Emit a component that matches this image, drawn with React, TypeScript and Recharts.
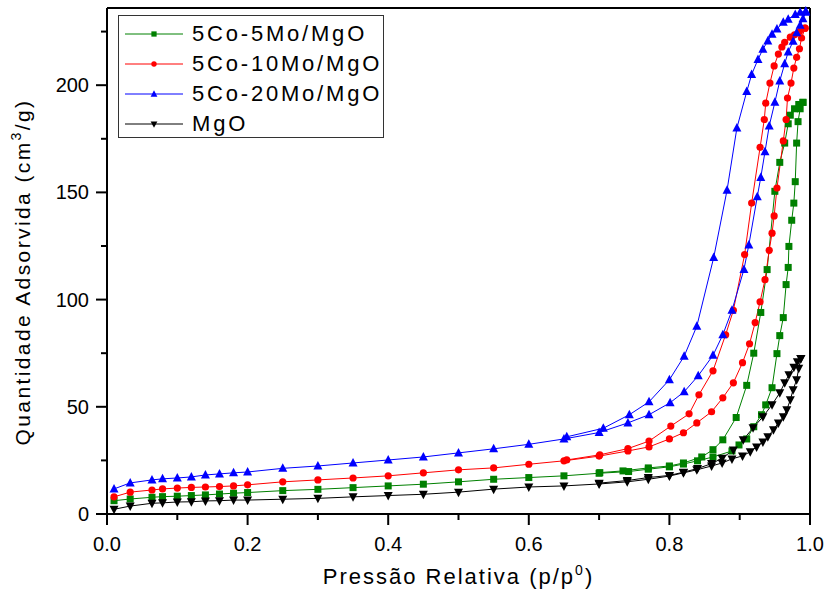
import { LineChart, Line, XAxis, YAxis, ReferenceLine, Label } from 'recharts'

const FONT = '"Liberation Sans", Arial, sans-serif'
const Y_MAX = 236
const X_TICKS = [0, 0.1, 0.2, 0.3, 0.4, 0.5, 0.6, 0.7, 0.8, 0.9, 1.0]
const Y_TICKS = [0, 25, 50, 75, 100, 125, 150, 175, 200, 225]

// [p/p0, quantity] pairs, adsorption then desorption
const CO5_ADS = [
  [0.01, 6.2], [0.033, 7], [0.064, 7.8], [0.079, 8.1], [0.1, 8.3], [0.12, 8.6], [0.14, 8.9], [0.16, 9.3],
  [0.18, 9.7], [0.2, 10], [0.25, 10.9], [0.3, 11.5], [0.35, 12.3], [0.4, 13.1], [0.45, 13.9], [0.5, 15],
  [0.55, 16.2], [0.6, 17], [0.65, 17.8], [0.7, 19], [0.742, 19.8], [0.77, 20.9], [0.8, 22], [0.82, 23.3],
  [0.84, 24.8], [0.862, 26.6], [0.889, 29.4], [0.899, 32.2], [0.91, 35], [0.92, 40.7], [0.931, 46.3],
  [0.937, 50.9], [0.946, 58.9], [0.953, 74.8], [0.957, 83.2], [0.962, 91.6], [0.966, 107], [0.969, 115],
  [0.97, 124.8], [0.974, 137], [0.977, 145], [0.979, 155], [0.981, 173], [0.983, 183], [0.986, 189], [0.99, 192],
]
const CO5_DES = [
  [0.99, 192], [0.984, 191], [0.978, 189], [0.972, 186], [0.969, 182], [0.964, 173], [0.957, 164], [0.95, 150.5],
  [0.939, 114], [0.93, 94], [0.92, 75], [0.91, 60], [0.895, 45], [0.876, 34.6], [0.862, 30], [0.846, 26.6],
  [0.82, 23.8], [0.8, 22.4], [0.77, 21.5], [0.734, 20.1], [0.701, 19.3],
]
const CO10_ADS = [
  [0.01, 8], [0.033, 10.2], [0.064, 11.2], [0.079, 11.7], [0.1, 12.1], [0.12, 12.4], [0.14, 12.6], [0.16, 12.8],
  [0.18, 13.1], [0.2, 13.6], [0.25, 15], [0.3, 15.9], [0.35, 16.8], [0.4, 17.8], [0.45, 19.2], [0.5, 20.6],
  [0.55, 21.5], [0.6, 23.2], [0.65, 24.8], [0.7, 27], [0.741, 29.4], [0.771, 31.3], [0.8, 35], [0.82, 37.9],
  [0.839, 42.5], [0.86, 47.7], [0.876, 54.2], [0.891, 61.2], [0.904, 70.6], [0.914, 79.4], [0.922, 89.3],
  [0.929, 99], [0.936, 109.3], [0.942, 123], [0.946, 131], [0.949, 139], [0.953, 152], [0.962, 174],
  [0.966, 184], [0.968, 194], [0.973, 201], [0.977, 208], [0.981, 213], [0.985, 217], [0.988, 222], [0.993, 226.6],
]
const CO10_DES = [
  [0.993, 226.6], [0.985, 225], [0.978, 223.5], [0.972, 222.4], [0.964, 220], [0.96, 217.8], [0.955, 214.5],
  [0.949, 209], [0.943, 201], [0.937, 191.6], [0.935, 184], [0.929, 171], [0.917, 145], [0.907, 121],
  [0.891, 95], [0.88, 83.6], [0.862, 66.8], [0.842, 55.6], [0.828, 46.7], [0.802, 41], [0.771, 34],
  [0.741, 30.5], [0.701, 27.6], [0.654, 25.2],
]
const CO20_ADS = [
  [0.01, 11.7], [0.033, 14.5], [0.064, 15.9], [0.079, 16.4], [0.1, 16.8], [0.12, 17.3], [0.14, 18.2], [0.16, 18.7],
  [0.18, 19.2], [0.2, 19.6], [0.25, 21.3], [0.3, 22.4], [0.35, 23.8], [0.4, 25.2], [0.45, 26.6], [0.5, 28.5],
  [0.55, 30.4], [0.6, 32.5], [0.65, 35], [0.7, 38], [0.741, 42.5], [0.771, 46.3], [0.801, 51.9], [0.821, 57],
  [0.841, 64.5], [0.862, 74], [0.876, 83.6], [0.889, 95], [0.906, 114], [0.913, 125.5], [0.925, 148],
  [0.93, 157], [0.936, 169], [0.942, 181], [0.95, 192], [0.957, 202], [0.964, 210], [0.969, 215.5],
  [0.976, 220.5], [0.981, 224.5], [0.986, 228], [0.99, 231], [0.994, 234],
]
const CO20_DES = [
  [0.994, 234.6], [0.986, 234], [0.979, 233], [0.969, 230.8], [0.962, 229.4], [0.953, 226.2], [0.946, 223.8],
  [0.94, 220.6], [0.933, 216.8], [0.926, 212], [0.917, 205], [0.91, 197], [0.896, 180], [0.882, 151],
  [0.863, 119.6], [0.839, 87.6], [0.821, 73.6], [0.8, 62.6], [0.771, 52.3], [0.743, 46.3], [0.706, 40], [0.654, 36],
]
const MGO_ADS = [
  [0.01, 2.2], [0.033, 3.7], [0.064, 5], [0.079, 5.2], [0.1, 5.6], [0.12, 5.7], [0.14, 6.1], [0.16, 6.2],
  [0.18, 6.5], [0.2, 6.5], [0.25, 6.9], [0.3, 7.3], [0.35, 8], [0.4, 8.6], [0.45, 9.2], [0.5, 10.2],
  [0.55, 11.6], [0.6, 12.6], [0.65, 13.1], [0.7, 14], [0.74, 15], [0.77, 16.2], [0.8, 17.7], [0.82, 19.2],
  [0.839, 20.6], [0.86, 22.4], [0.875, 23.8], [0.889, 25.7], [0.904, 27.1], [0.915, 29], [0.924, 31.3],
  [0.933, 33.6], [0.94, 36], [0.948, 39.3], [0.955, 42.5], [0.962, 45.3], [0.967, 48.6], [0.972, 53.3],
  [0.976, 58], [0.981, 62.6], [0.984, 68], [0.987, 72.5],
]
const MGO_DES = [
  [0.987, 72.5], [0.982, 71], [0.977, 68.5], [0.97, 65], [0.964, 61.2], [0.957, 56.5], [0.946, 51],
  [0.933, 45.3], [0.919, 40.2], [0.905, 34.6], [0.891, 29.9], [0.875, 26], [0.86, 23.5], [0.84, 21.2],
  [0.82, 19.5], [0.8, 18], [0.77, 17], [0.74, 15.6], [0.7, 14.4],
]

const toRows = (ads: number[][], des: number[][]) =>
  ads.concat(des).map(([p, q]) => ({ p, q }))

const SERIES = [
  { name: '5Co-5Mo/MgO', color: '#008000', shape: 'square', data: toRows(CO5_ADS, CO5_DES) },
  { name: '5Co-10Mo/MgO', color: '#ff0000', shape: 'circle', data: toRows(CO10_ADS, CO10_DES) },
  { name: '5Co-20Mo/MgO', color: '#0000ff', shape: 'up', data: toRows(CO20_ADS, CO20_DES) },
  { name: 'MgO', color: '#000000', shape: 'down', data: toRows(MGO_ADS, MGO_DES) },
]

function Marker({ cx, cy, shape, color, s = 1 }: any) {
  if (shape === 'square') return <rect x={cx - 3.5 * s} y={cy - 3.5 * s} width={7 * s} height={7 * s} fill={color} />
  if (shape === 'circle') return <circle cx={cx} cy={cy} r={3.6 * s} fill={color} />
  if (shape === 'up')
    return <polygon points={`${cx},${cy - 5 * s} ${cx - 4.5 * s},${cy + 3.5 * s} ${cx + 4.5 * s},${cy + 3.5 * s}`} fill={color} />
  return <polygon points={`${cx},${cy + 5 * s} ${cx - 4.5 * s},${cy - 3.5 * s} ${cx + 4.5 * s},${cy - 3.5 * s}`} fill={color} />
}

const XTick = ({ x, y, payload }: any) => {
  const major = Math.round(payload.value * 10) % 2 === 0
  return (
    <g>
      <line x1={x} y1={y} x2={x} y2={y + (major ? 11 : 6)} stroke="#000" strokeWidth={2} />
      {major && (
        <text x={x} y={y + 37} textAnchor="middle" fontSize={20} fontFamily={FONT} fill="#000">
          {payload.value.toFixed(1)}
        </text>
      )}
    </g>
  )
}

const YTick = ({ x, y, payload }: any) => {
  const major = payload.value % 50 === 0
  return (
    <g>
      <line x1={x} y1={y} x2={x - (major ? 11 : 6)} y2={y} stroke="#000" strokeWidth={2} />
      {major && (
        <text x={x - 18} y={y + 7} textAnchor="end" fontSize={20} fontFamily={FONT} fill="#000">
          {payload.value}
        </text>
      )}
    </g>
  )
}

function LegendBox() {
  return (
    <div
      style={{
        position: 'absolute', left: 118, top: 15, width: 264, height: 121,
        border: '1px solid #333', background: '#fff', fontFamily: FONT,
      }}
    >
      {SERIES.map((s, i) => (
        <div key={s.name} style={{ position: 'absolute', left: 0, top: 4 + i * 30, height: 28, display: 'flex', alignItems: 'center' }}>
          <svg width={70} height={28}>
            <line x1={6} y1={14} x2={64} y2={14} stroke={s.color} strokeWidth={1} />
            <Marker cx={35} cy={14} shape={s.shape} color={s.color} s={0.75} />
          </svg>
          <span style={{ fontSize: 22, letterSpacing: 2.8, marginLeft: 3, color: '#000' }}>{s.name}</span>
        </div>
      ))}
    </div>
  )
}

export default function App() {
  return (
    <div style={{ position: 'relative', width: 830, height: 592, background: '#fff' }}>
      <style>{'body{margin:0}'}</style>
      <LineChart width={830} height={592} margin={{ top: 8, right: 20, bottom: 28, left: 47 }}>
        <XAxis
          type="number"
          dataKey="p"
          domain={[0, 1]}
          ticks={X_TICKS}
          interval={0}
          height={50}
          tickSize={0}
          tickMargin={0}
          tick={<XTick />}
          axisLine={{ stroke: '#000', strokeWidth: 2 }}
          allowDuplicatedCategory={false}
        >
          <Label
            content={({ viewBox }: any) => (
              <text
                x={viewBox.x + viewBox.width / 2}
                y={viewBox.y + 70}
                textAnchor="middle"
                fontSize={22}
                letterSpacing={2}
                fontFamily={FONT}
                fill="#000"
              >
                Pressão Relativa (p/p<tspan dy={-9} fontSize={14}>0</tspan><tspan dy={9}>)</tspan>
              </text>
            )}
          />
        </XAxis>
        <YAxis
          type="number"
          domain={[0, Y_MAX]}
          ticks={Y_TICKS}
          interval={0}
          width={60}
          tickSize={0}
          tickMargin={0}
          tick={<YTick />}
          axisLine={{ stroke: '#000', strokeWidth: 2 }}
        >
          <Label
            content={({ viewBox }: any) => {
              const cx = viewBox.x - 17
              const cy = viewBox.y + viewBox.height / 2 + 11
              return (
                <text
                  x={cx}
                  y={cy}
                  transform={`rotate(-90 ${cx} ${cy})`}
                  textAnchor="middle"
                  fontSize={21}
                  letterSpacing={2.4}
                  fontFamily={FONT}
                  fill="#000"
                >
                  Quantidade Adsorvida (cm<tspan dy={-9} fontSize={14}>3</tspan><tspan dy={9}>/g)</tspan>
                </text>
              )
            }}
          />
        </YAxis>
        <ReferenceLine y={Y_MAX} stroke="#000" strokeWidth={2} />
        <ReferenceLine x={1} stroke="#000" strokeWidth={2} />
        {SERIES.map((s) => (
          <Line
            key={s.name}
            data={s.data}
            dataKey="q"
            name={s.name}
            type="linear"
            stroke={s.color}
            strokeWidth={1}
            isAnimationActive={false}
            dot={(props: any) => <Marker key={props.index} cx={props.cx} cy={props.cy} shape={s.shape} color={s.color} />}
            activeDot={false}
          />
        ))}
      </LineChart>
      <LegendBox />
    </div>
  )
}
